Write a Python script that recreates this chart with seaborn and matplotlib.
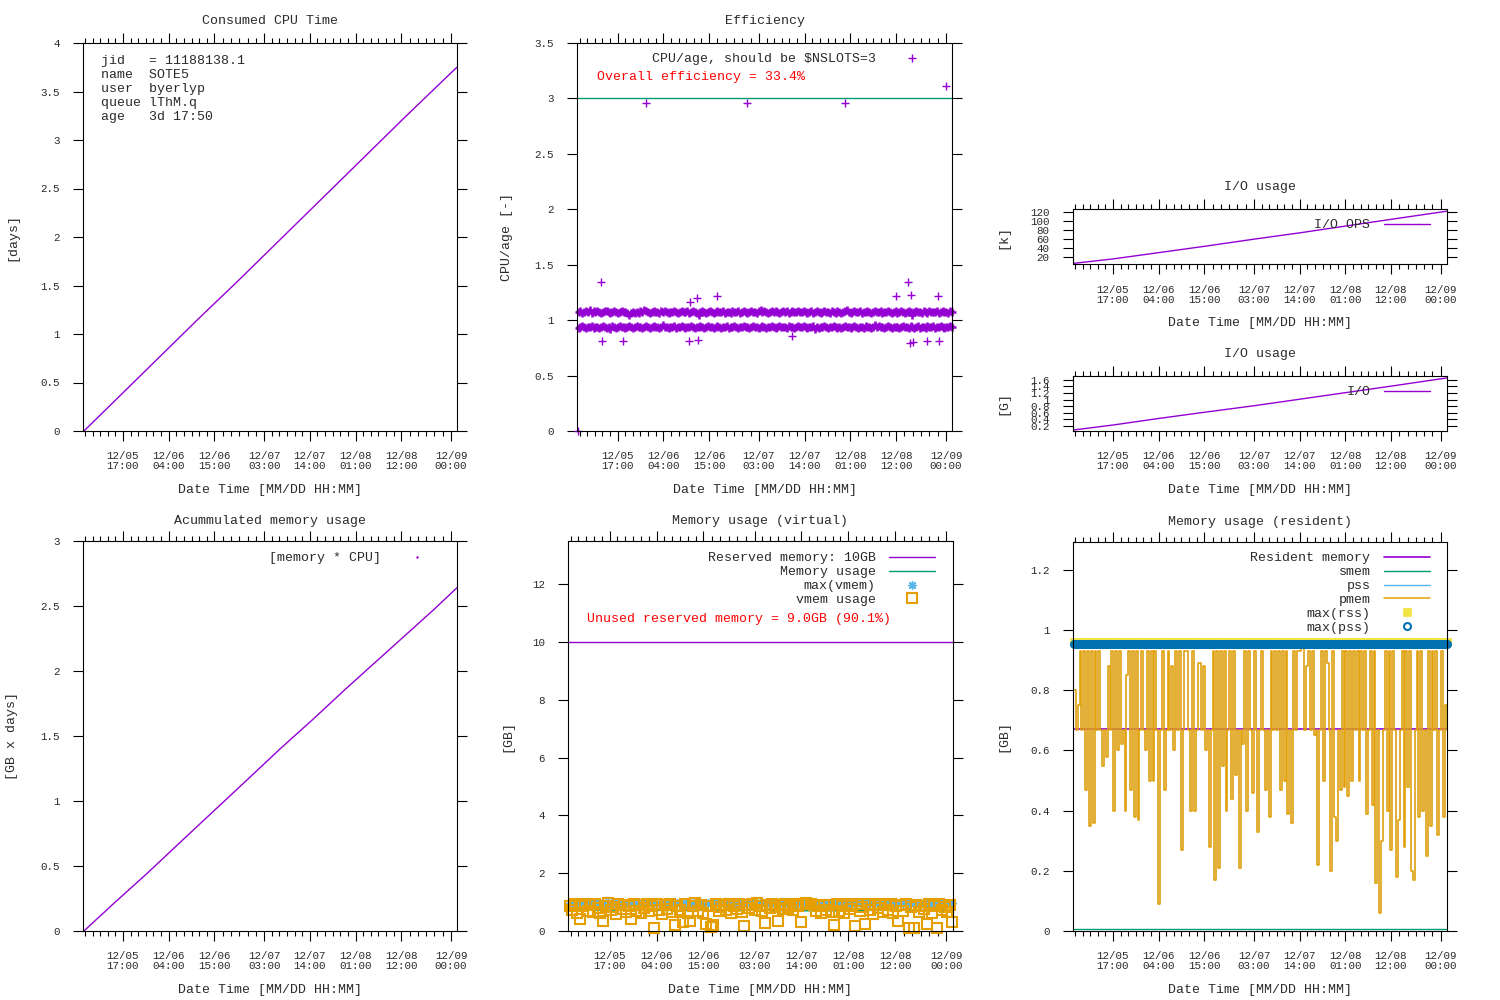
import numpy as np
import matplotlib
matplotlib.use("Agg")
import matplotlib.pyplot as plt
import seaborn as sns
from matplotlib.lines import Line2D
from matplotlib.ticker import FuncFormatter

sns.set_theme(style="ticks")
plt.rcParams['font.family'] = ['Liberation Mono', 'DejaVu Sans Mono']

# gnuplot default colours
PURPLE = '#9400d3'
GREEN = '#009e73'
SKY = '#56b4e9'
ORANGE = '#e69f00'
YELLOW = '#f0e442'
BLUE = '#0072b2'
TEXT = '#2a2a2a'

# time axis, hours counted from 12/05 00:00
x_range = (7.3, 97.5)
t_start, t_end = 7.6, 97.4
tick_hours = [17, 28, 39, 51, 62, 73, 84, 96]
tick_labels = ["12/05\n17:00", "12/06\n04:00", "12/06\n15:00", "12/07\n03:00",
               "12/07\n14:00", "12/08\n01:00", "12/08\n12:00", "12/09\n00:00"]

info_lines = ["jid   = 11188138.1", "name  SOTE5", "user  byerlyp",
              "queue lThM.q", "age   3d 17:50"]

# consumed CPU time [days]
cpu_t = [7.6, 15, 25, 35, 45, 55, 65, 75, 85, 97.4]
cpu_days = [0.0, 0.31, 0.73, 1.15, 1.56, 1.98, 2.40, 2.82, 3.24, 3.75]

# efficiency (CPU/age), two bands of samples plus outliers
eff_hi = [1.07, 1.08, 1.06, 1.07, 1.08, 1.07, 1.09, 1.06, 1.08, 1.07,
          1.08, 1.07, 1.06, 1.07, 1.08, 1.08, 1.07, 1.06, 1.07, 1.08,
          1.07, 1.06, 1.07, 1.08, 1.07, 1.07, 1.06, 1.05, 1.06, 1.07,
          1.06, 1.07, 1.06, 1.08, 1.07, 1.09, 1.08, 1.07, 1.06, 1.07,
          1.08, 1.07, 1.07, 1.06, 1.08, 1.07, 1.08, 1.07, 1.06, 1.07,
          1.07, 1.08, 1.07, 1.06, 1.07, 1.08, 1.07, 1.07, 1.08, 1.06,
          1.07, 1.08, 1.07, 1.06, 1.05, 1.07, 1.08, 1.07, 1.06, 1.07,
          1.08, 1.07, 1.06, 1.07, 1.08, 1.07, 1.07, 1.08, 1.06, 1.07,
          1.07, 1.06, 1.08, 1.07, 1.07, 1.08, 1.06, 1.07, 1.08, 1.07,
          1.06, 1.07, 1.08, 1.07, 1.07, 1.06, 1.08, 1.09, 1.07, 1.08,
          1.07, 1.06, 1.07, 1.08, 1.07, 1.08, 1.07, 1.06, 1.07, 1.08,
          1.07, 1.08, 1.06, 1.07, 1.08, 1.07, 1.07, 1.08, 1.07, 1.07,
          1.08, 1.07, 1.06, 1.07, 1.08, 1.06, 1.07, 1.08, 1.07, 1.06,
          1.07, 1.08, 1.07, 1.07, 1.06, 1.08, 1.07, 1.06, 1.08, 1.07,
          1.06, 1.07, 1.08, 1.09, 1.07, 1.06, 1.07, 1.08, 1.07, 1.07,
          1.08, 1.06, 1.07, 1.07, 1.08, 1.07, 1.06, 1.07, 1.08, 1.07,
          1.07, 1.08, 1.06, 1.07, 1.07, 1.08, 1.07, 1.06, 1.07, 1.08,
          1.06, 1.07, 1.08, 1.07, 1.06, 1.07, 1.08, 1.07, 1.05, 1.07,
          1.08, 1.07, 1.07, 1.06, 1.08, 1.07, 1.06, 1.08, 1.07, 1.07,
          1.07, 1.08, 1.06, 1.07, 1.08, 1.07, 1.07, 1.06, 1.08, 1.07]
eff_lo = [0.93, 0.94, 0.95, 0.94, 0.93, 0.94, 0.94, 0.95, 0.93, 0.94,
          0.94, 0.93, 0.94, 0.95, 0.94, 0.93, 0.94, 0.92, 0.95, 0.94,
          0.93, 0.94, 0.95, 0.94, 0.94, 0.93, 0.94, 0.95, 0.94, 0.93,
          0.94, 0.95, 0.94, 0.94, 0.93, 0.94, 0.95, 0.94, 0.93, 0.94,
          0.95, 0.94, 0.94, 0.93, 0.94, 0.96, 0.94, 0.94, 0.93, 0.94,
          0.94, 0.95, 0.93, 0.94, 0.94, 0.95, 0.94, 0.93, 0.94, 0.94,
          0.95, 0.94, 0.93, 0.94, 0.94, 0.95, 0.94, 0.93, 0.94, 0.95,
          0.94, 0.94, 0.93, 0.94, 0.95, 0.94, 0.93, 0.94, 0.94, 0.95,
          0.93, 0.94, 0.94, 0.95, 0.94, 0.93, 0.94, 0.94, 0.95, 0.94,
          0.94, 0.93, 0.94, 0.95, 0.94, 0.94, 0.93, 0.94, 0.95, 0.94,
          0.93, 0.94, 0.94, 0.95, 0.94, 0.93, 0.94, 0.95, 0.94, 0.94,
          0.94, 0.93, 0.95, 0.94, 0.94, 0.93, 0.94, 0.95, 0.94, 0.94,
          0.95, 0.94, 0.93, 0.94, 0.94, 0.95, 0.92, 0.94, 0.93, 0.94,
          0.94, 0.95, 0.94, 0.93, 0.94, 0.94, 0.95, 0.94, 0.93, 0.94,
          0.93, 0.94, 0.95, 0.94, 0.94, 0.93, 0.94, 0.95, 0.94, 0.93,
          0.94, 0.94, 0.93, 0.95, 0.94, 0.94, 0.93, 0.94, 0.96, 0.94,
          0.95, 0.94, 0.94, 0.93, 0.94, 0.95, 0.94, 0.93, 0.94, 0.94,
          0.94, 0.93, 0.94, 0.95, 0.94, 0.94, 0.93, 0.95, 0.94, 0.93,
          0.94, 0.95, 0.93, 0.94, 0.94, 0.93, 0.95, 0.94, 0.94, 0.95,
          0.93, 0.94, 0.94, 0.95, 0.94, 0.93, 0.94, 0.94, 0.95, 0.94]
eff_out_t = [7.4, 13.0, 13.3, 18.4, 23.8, 34.2, 34.5, 36.0, 36.3, 40.8, 48.05,
             58.9, 71.7, 83.9, 86.9, 87.3, 87.6, 88.1, 91.4, 94.0, 94.4, 95.9]
eff_out_v = [0.0, 1.34, 0.81, 0.81, 2.96, 0.81, 1.16, 1.20, 0.82, 1.22, 2.96,
             0.86, 2.96, 1.22, 1.34, 0.79, 1.23, 0.80, 0.81, 1.22, 0.81, 3.11]
nslots = 3

# I/O
io_t = [7.6, 17, 28, 39, 51, 62, 73, 84, 97.4]
io_ops = [5.3, 15, 29, 43, 59, 73, 88, 103, 121]
io_gb = [0.07, 0.22, 0.42, 0.61, 0.81, 1.01, 1.21, 1.41, 1.66]

# accumulated memory usage [GB x days]
acc_t = [7.6, 14.7, 22.7, 30.7, 38.75, 46.8, 54.8, 62.8, 70.9, 78.9, 86.9, 92.1, 97.4]
acc_mem = [0.0, 0.21, 0.44, 0.68, 0.92, 1.16, 1.40, 1.63, 1.87, 2.10, 2.33, 2.48, 2.64]

# virtual memory [GB]
reserved_gb = 10
mem_use_t = [7.6, 20, 35, 50, 60, 70, 85, 97.4]
mem_use = [0.72, 0.72, 0.71, 0.72, 0.70, 0.70, 0.72, 0.72]
max_vmem = 0.97
vmem_usage = [0.88, 0.74, 0.93, 0.62, 0.40, 0.85, 0.95, 0.70, 0.90, 0.66,
              0.92, 0.78, 0.63, 0.35, 0.88, 0.96, 0.72, 0.84, 0.60, 0.93,
              0.75, 0.91, 0.67, 0.86, 0.42, 0.94, 0.70, 0.89, 0.64, 0.81,
              0.95, 0.69, 0.87, 0.11, 0.92, 0.73, 0.60, 0.90, 0.77, 0.94,
              0.66, 0.22, 0.88, 0.71, 0.30, 0.93, 0.62, 0.33, 0.85, 0.96,
              0.70, 0.91, 0.64, 0.23, 0.87, 0.15, 0.20, 0.94, 0.68, 0.82,
              0.90, 0.73, 0.95, 0.61, 0.86, 0.76, 0.92, 0.65, 0.17, 0.89,
              0.80, 0.93, 0.74, 0.96, 0.85, 0.70, 0.27, 0.91, 0.78, 0.94,
              0.84, 0.33, 0.90, 0.75, 0.95, 0.80, 0.88, 0.72, 0.93, 0.86,
              0.30, 0.92, 0.96, 0.94, 0.95, 0.90, 0.68, 0.87, 0.63, 0.91,
              0.74, 0.89, 0.66, 0.22, 0.93, 0.70, 0.85, 0.61, 0.95, 0.77,
              0.88, 0.17, 0.92, 0.69, 0.84, 0.25, 0.94, 0.72, 0.60, 0.90,
              0.81, 0.95, 0.67, 0.89, 0.74, 0.93, 0.63, 0.86, 0.35, 0.91,
              0.70, 0.94, 0.10, 0.82, 0.10, 0.90, 0.65, 0.88, 0.76, 0.25,
              0.93, 0.62, 0.87, 0.10, 0.95, 0.72, 0.84, 0.66, 0.91, 0.30]

# resident memory [GB]
rss_t = [7.6, 30, 52, 75, 97.4]
rss = [0.672, 0.672, 0.672, 0.672, 0.672]
pmem = [0.80, 0.667, 0.75, 0.93, 0.667, 0.93, 0.47, 0.93, 0.35, 0.93,
        0.36, 0.93, 0.667, 0.93, 0.667, 0.55, 0.667, 0.58, 0.88, 0.667,
        0.93, 0.40, 0.93, 0.60, 0.93, 0.62, 0.667, 0.40, 0.85, 0.93,
        0.47, 0.93, 0.38, 0.93, 0.37, 0.667, 0.93, 0.667, 0.60, 0.93,
        0.50, 0.93, 0.50, 0.93, 0.667, 0.09, 0.667, 0.93, 0.47, 0.667,
        0.93, 0.667, 0.88, 0.60, 0.93, 0.667, 0.93, 0.27, 0.667, 0.93,
        0.93, 0.667, 0.40, 0.93, 0.40, 0.667, 0.89, 0.89, 0.667, 0.88,
        0.60, 0.667, 0.28, 0.667, 0.93, 0.17, 0.93, 0.21, 0.93, 0.55,
        0.93, 0.40, 0.667, 0.93, 0.44, 0.93, 0.52, 0.667, 0.21, 0.667,
        0.62, 0.93, 0.40, 0.93, 0.667, 0.46, 0.93, 0.667, 0.33, 0.667,
        0.93, 0.667, 0.47, 0.667, 0.38, 0.93, 0.667, 0.93, 0.667, 0.93,
        0.47, 0.93, 0.50, 0.93, 0.39, 0.667, 0.36, 0.93, 0.667, 0.93,
        0.93, 0.94, 0.94, 0.667, 0.88, 0.93, 0.667, 0.93, 0.65, 0.667,
        0.22, 0.667, 0.93, 0.50, 0.93, 0.89, 0.667, 0.20, 0.93, 0.38,
        0.30, 0.667, 0.47, 0.93, 0.48, 0.93, 0.45, 0.93, 0.50, 0.93,
        0.667, 0.93, 0.50, 0.93, 0.667, 0.93, 0.39, 0.667, 0.93, 0.42,
        0.93, 0.16, 0.667, 0.06, 0.30, 0.667, 0.93, 0.40, 0.93, 0.27,
        0.93, 0.667, 0.18, 0.37, 0.667, 0.93, 0.28, 0.93, 0.48, 0.93,
        0.20, 0.17, 0.667, 0.93, 0.38, 0.93, 0.40, 0.667, 0.25, 0.93,
        0.35, 0.93, 0.667, 0.93, 0.32, 0.667, 0.93, 0.38, 0.75, 0.667]
smem = [0.006, 0.006]
max_rss = 0.959
max_pss = 0.953

# sampling grids
eff_t = np.linspace(t_start, t_end, len(eff_hi))
vmem_t = np.linspace(t_start, t_end, len(vmem_usage))
res_t = np.linspace(t_start, t_end, len(pmem))
max_t = np.linspace(t_start, t_end, 220)

# minor x ticks: 6 subdivisions between the date tics
minor_ticks = []
first_step = (tick_hours[1] - tick_hours[0]) / 6
for k in range(1, 6):
    if tick_hours[0] - k * first_step > x_range[0]:
        minor_ticks.append(tick_hours[0] - k * first_step)
for a, b in zip(tick_hours[:-1], tick_hours[1:]):
    minor_ticks += [a + (b - a) * k / 6 for k in range(1, 6)]


def px_rect(left, top, right, bottom):
    return [left / 1500, 1 - bottom / 1000, (right - left) / 1500, (bottom - top) / 1000]


def dress(ax, ylim, yticks, title, ylabel, title_y, xlabel_y, ylabel_x):
    ax.set_xlim(x_range)
    ax.set_ylim(ylim)
    ax.set_xticks(tick_hours)
    ax.set_xticklabels(tick_labels, linespacing=1.0)
    ax.set_xticks(minor_ticks, minor=True)
    ax.set_yticks(yticks)
    ax.yaxis.set_major_formatter(FuncFormatter(lambda v, p: f"{v:g}"))
    ax.tick_params(which='both', direction='out', top=True, right=True,
                   width=0.8, color='black', labelcolor=TEXT, labelsize=7.8)
    ax.tick_params(which='major', length=7.2)
    ax.tick_params(which='minor', length=3.6)
    ax.tick_params(axis='x', pad=7.5)
    ax.tick_params(axis='y', pad=9.5)
    for s in ax.spines.values():
        s.set_visible(True)
        s.set_linewidth(0.8)
        s.set_color('black')
    ax.set_title(title, y=title_y, pad=0, va='center', fontsize=9.5, color=TEXT)
    ax.set_xlabel("Date Time [MM/DD HH:MM]", fontsize=9.5, color=TEXT)
    ax.xaxis.set_label_coords(0.5, xlabel_y)
    ax.xaxis.label.set_va('center')
    ax.set_ylabel(ylabel, fontsize=9.5, color=TEXT)
    ax.yaxis.set_label_coords(ylabel_x, 0.5)
    ax.yaxis.label.set_va('center')


def key(ax, x, y, loc='upper right', **kw):
    leg = ax.legend(loc=loc, bbox_to_anchor=(x, y), frameon=False, markerfirst=False,
                    fontsize=9.5, handlelength=3.5, handletextpad=1.0, borderpad=0,
                    borderaxespad=0, labelspacing=0.13, numpoints=1, labelcolor=TEXT, **kw)
    return leg


fig = plt.figure(figsize=(15, 10), dpi=100)

# --- Consumed CPU Time
ax = fig.add_axes(px_rect(82.7, 43, 457.3, 431))
sns.lineplot(x=cpu_t, y=cpu_days, ax=ax, color=PURPLE, linewidth=1.0,
             estimator=None, errorbar=None)
dress(ax, (0, 4), np.arange(0, 4.01, 0.5), "Consumed CPU Time", "[days]",
      1.0567, -0.152, -0.189)
for i, line in enumerate(info_lines):
    ax.text(0.049, 1 - (61 + 14 * i - 43) / 388, line, transform=ax.transAxes,
            ha='left', va='center', fontsize=9.5, color=TEXT)

# --- Efficiency
ax = fig.add_axes(px_rect(577.3, 43, 952.3, 431))
ax.axhline(nslots, color=GREEN, linewidth=1.0)
band = dict(color=PURPLE, linestyle='none', marker='+', markersize=6, mew=1.8,
            mec=PURPLE, estimator=None, errorbar=None, clip_on=False)
plus = dict(color=PURPLE, linestyle='none', marker='+', markersize=5.5, mew=1.0,
            mec=PURPLE, estimator=None, errorbar=None, clip_on=False)
sns.lineplot(x=eff_out_t, y=eff_out_v, ax=ax, label="CPU/age, should be $NSLOTS=3", **plus)
sns.lineplot(x=eff_t, y=eff_hi, ax=ax, **band)
sns.lineplot(x=eff_t, y=eff_lo, ax=ax, **band)
dress(ax, (0, 3.5), np.arange(0, 3.51, 0.5), "Efficiency", "CPU/age [-]",
      1.0567, -0.152, -0.1875)
ax.text(0.052, 0.913, "Overall efficiency = 33.4%", transform=ax.transAxes,
        ha='left', va='center', fontsize=9.5, color='red')
key(ax, 0.954, (431 - 59.3) / 388, loc='center right')

# --- I/O ops
ax = fig.add_axes(px_rect(1072.7, 209, 1447, 264.3))
sns.lineplot(x=io_t, y=io_ops, ax=ax, color=PURPLE, linewidth=1.0,
             estimator=None, errorbar=None, label="I/O OPS")
dress(ax, (3.1, 126), [20, 40, 60, 80, 100, 120], "I/O usage", "[k]",
      1.40, -1.061, -0.186)
key(ax, 0.954, 0.71, loc='center right')

# --- I/O volume
ax = fig.add_axes(px_rect(1072.7, 375.7, 1447, 431))
sns.lineplot(x=io_t, y=io_gb, ax=ax, color=PURPLE, linewidth=1.0,
             estimator=None, errorbar=None, label="I/O")
dress(ax, (0.037, 1.73), np.arange(0.2, 1.61, 0.2), "I/O usage", "[G]",
      1.39, -1.067, -0.186)
key(ax, 0.954, 0.70, loc='center right')

# --- Accumulated memory usage
ax = fig.add_axes(px_rect(82.7, 541, 457.3, 931))
sns.lineplot(x=acc_t, y=acc_mem, ax=ax, color=PURPLE, linewidth=1.0,
             estimator=None, errorbar=None)
dress(ax, (0, 3), np.arange(0, 3.01, 0.5), "Acummulated memory usage", "[GB x days]",
      1.051, -0.151, -0.189)
dot = Line2D([], [], linestyle='none', marker='.', markersize=1.5, color=PURPLE)
key(ax, 0.954, (931 - 558) / 390, loc='center right', handles=[dot],
    labels=["[memory * CPU]"])

# --- Memory usage (virtual)
ax = fig.add_axes(px_rect(568.3, 541, 952.7, 931))
ax.axhline(reserved_gb, color=PURPLE, linewidth=1.0, label="Reserved memory: 10GB")
sns.lineplot(x=mem_use_t, y=mem_use, ax=ax, color=GREEN, linewidth=1.0,
             estimator=None, errorbar=None, label="Memory usage")
sns.lineplot(x=vmem_t, y=[max_vmem] * len(vmem_t), ax=ax, color=SKY, linestyle='none',
             marker=(8, 2, 0), markersize=6, mew=1.0, mec=SKY,
             estimator=None, errorbar=None, label="max(vmem)", clip_on=False)
sns.lineplot(x=vmem_t, y=vmem_usage, ax=ax, color=ORANGE, linestyle='none',
             marker='s', markersize=6.5, mfc='none', mew=1.5, mec=ORANGE,
             estimator=None, errorbar=None, label="vmem usage", clip_on=False)
dress(ax, (0, 13.5), np.arange(0, 12.1, 2), "Memory usage (virtual)", "[GB]",
      1.051, -0.151, -0.159)
ax.text(0.049, 0.799, "Unused reserved memory = 9.0GB (90.1%)", transform=ax.transAxes,
        ha='left', va='center', fontsize=9.5, color='red')
key(ax, 0.954, (931 - 552) / 390)

# --- Memory usage (resident)
ax = fig.add_axes(px_rect(1072.7, 541.7, 1447, 931))
sns.lineplot(x=rss_t, y=rss, ax=ax, color=PURPLE, linewidth=1.2,
             estimator=None, errorbar=None, label="Resident memory")
sns.lineplot(x=[t_start, t_end], y=smem, ax=ax, color=GREEN, linewidth=1.0,
             estimator=None, errorbar=None, label="smem")
# pss coincides with pmem and is hidden under it
sns.lineplot(x=res_t, y=pmem, ax=ax, color=SKY, linewidth=0.3, drawstyle='steps-post',
             estimator=None, errorbar=None, label="pss")
sns.lineplot(x=res_t, y=pmem, ax=ax, color=ORANGE, linewidth=1.1, drawstyle='steps-post',
             estimator=None, errorbar=None, label="pmem")
sns.lineplot(x=max_t, y=[max_rss] * len(max_t), ax=ax, color=YELLOW, linestyle='none',
             marker='s', markersize=6, mfc=YELLOW, mec=YELLOW, mew=0.5,
             estimator=None, errorbar=None, label="max(rss)", clip_on=False)
sns.lineplot(x=max_t, y=[max_pss] * len(max_t), ax=ax, color=BLUE, linestyle='none',
             marker='o', markersize=5, mfc='none', mec=BLUE, mew=1.5,
             estimator=None, errorbar=None, label="max(pss)", clip_on=False)
leg = key(ax, 0.954, (931 - 552) / 389.3)
for h in leg.legend_handles[2:3]:
    h.set_linewidth(1.0)
dress(ax, (0, 1.294), np.arange(0, 1.21, 0.2), "Memory usage (resident)", "[GB]",
      1.051, -0.151, -0.186)

fig.savefig("out.png", dpi=100)
